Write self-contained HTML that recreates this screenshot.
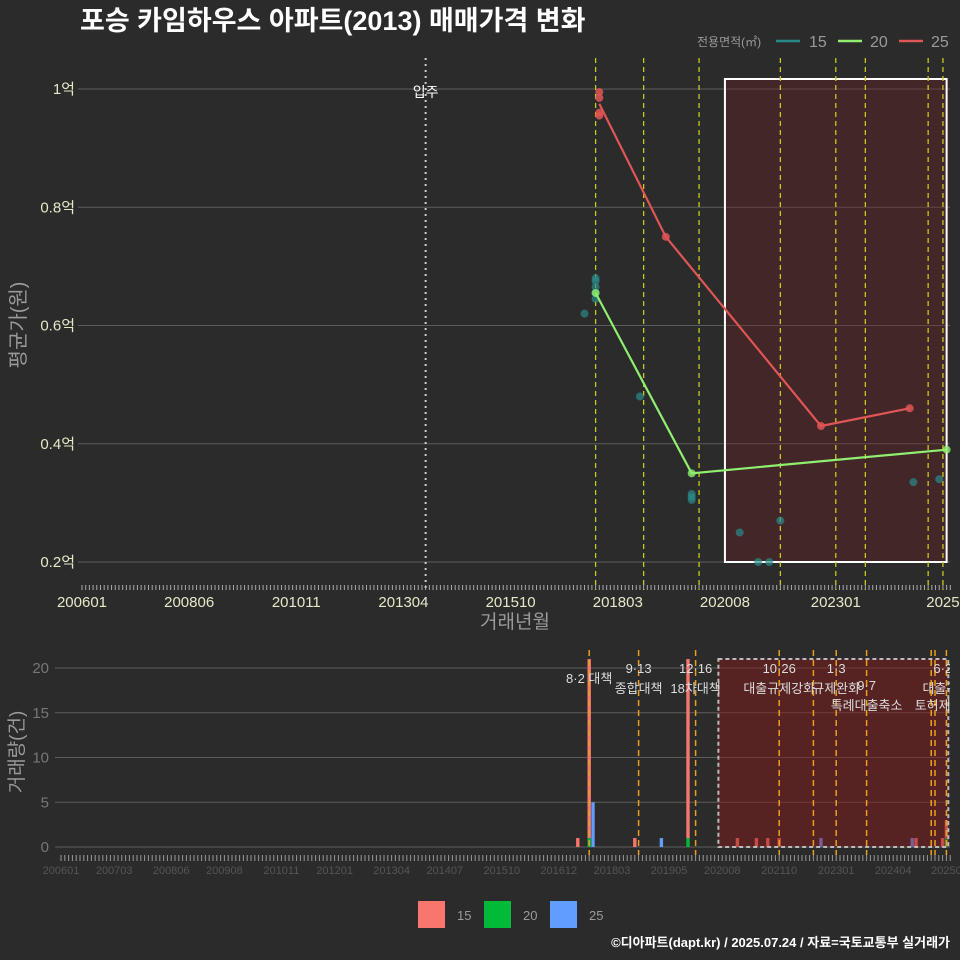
<!DOCTYPE html>
<html><head><meta charset="utf-8">
<style>
html,body{margin:0;padding:0;background:#2b2b2b;}
svg{display:block;font-family:"Liberation Sans","Noto Sans CJK KR",sans-serif;}
</style></head>
<body>
<svg id="chart" width="960" height="960" viewBox="0 0 960 960">
<rect x="0" y="0" width="960" height="960" fill="#2b2b2b"/>
<text x="80" y="30" font-size="27" font-weight="bold" fill="#ffffff">포승 카임하우스 아파트(2013) 매매가격 변화</text>
<g>
<text x="697" y="46" font-size="12" fill="#9a9a9a">전용면적(㎡)</text>
<line x1="776" y1="41" x2="800" y2="41" stroke="#2a8a8a" stroke-width="2.5"/>
<text x="809" y="47" font-size="16" fill="#9a9a9a">15</text>
<line x1="838" y1="41" x2="862" y2="41" stroke="#90ee70" stroke-width="2.5"/>
<text x="870" y="47" font-size="16" fill="#9a9a9a">20</text>
<line x1="899" y1="41" x2="923" y2="41" stroke="#e05555" stroke-width="2.5"/>
<text x="931" y="47" font-size="16" fill="#9a9a9a">25</text>
</g>
<g id="topPanel"></g>
<g id="botPanel"></g>
<text x="515" y="628" font-size="19" fill="#9a9a9a" text-anchor="middle">거래년월</text>
<text x="0" y="0" font-size="20" fill="#9a9a9a" text-anchor="middle" transform="translate(25,325) rotate(-90)">평균가(원)</text>
<text x="0" y="0" font-size="19" fill="#9a9a9a" text-anchor="middle" transform="translate(23,752) rotate(-90)">거래량(건)</text>
<g>
<rect x="418" y="901" width="27" height="27" fill="#f8766d"/>
<text x="457" y="920" font-size="13" fill="#9a9a9a">15</text>
<rect x="484" y="901" width="27" height="27" fill="#00ba38"/>
<text x="523" y="920" font-size="13" fill="#9a9a9a">20</text>
<rect x="550" y="901" width="27" height="27" fill="#619cff"/>
<text x="589" y="920" font-size="13" fill="#9a9a9a">25</text>
</g>
<text x="950" y="947" font-size="13" font-weight="bold" fill="#ffffff" text-anchor="end">©디아파트(dapt.kr) / 2025.07.24 / 자료=국토교통부 실거래가</text>
</svg>
<script>
// month index = months since 2006-01
const topTickMonths = [0,29,58,87,116,145,174,204,233];
const topTickLabels = ["200601","200806","201011","201304","201510","201803","202008","202301","2025"];
const yTicks = [1.0,0.8,0.6,0.4,0.2];
const yTickLabels = ["1억","0.8억","0.6억","0.4억","0.2억"];
const pts15M = [136,139,139,139,139,139,151,165,165,165,178,183,186,189,225,232];
const pts15V = [0.62,0.68,0.675,0.665,0.655,0.645,0.48,0.315,0.31,0.305,0.25,0.2,0.2,0.27,0.335,0.34];
const line20M = [139,165,234];
const line20V = [0.655,0.35,0.39];
const line25M = [140,158,200,224];
const line25V = [0.975,0.75,0.43,0.46];
const pts25M = [140,140,140,140,158,200,224];
const pts25V = [0.995,0.985,0.96,0.955,0.75,0.43,0.46];
const eventTopMonths = [139,152,167,189,204,212,229,233];
const moveInMonth = 93;
const regionStart = 174, regionEnd = 234;

const botTickMonths = [0,14,29,43,58,72,87,101,116,131,145,160,174,189,204,219,233];
const botTickLabels = ["200601","200703","200806","200908","201011","201201","201304","201407","201510","201612","201803","201905","202008","202110","202301","202404","20250"];
const volTicks = [0,5,10,15,20];
const barMonths = [136,139,140,151,158,165,178,183,186,189,200,224,225,232,233];
const bar15 = [1,20,0,1,0,20,1,1,1,1,0,0,1,1,2];
const bar20 = [0,1,0,0,0,1,0,0,0,0,0,0,0,0,1];
const bar25 = [0,0,5,0,1,0,0,0,0,0,1,1,0,0,0];
const eventBotMonths = [139,152,167,189,198,204,212,229,230,233];
const eventLabelMonths = [139,152,167,189,204,212,233];
const eventLine1 = ["","9·13","12·16","10·26","1·3","","6·27"];
const eventLine2 = ["8·2 대책","종합대책","18차대책","대출규제강화","규제완화","9·7","대출규제"];
const eventLine3 = ["","","","","","특례대출축소","토허제 해제"];

const NS="http://www.w3.org/2000/svg";
function mk(parent,tag,attrs){const e=document.createElementNS(NS,tag);for(const k in attrs)e.setAttribute(k,attrs[k]);parent.appendChild(e);return e;}
const tx=m=>82+m*3.695;
const ty=v=>89+(1-v)*591.25;
const bx=m=>61+m*3.8;
const by=v=>847-v*8.95;

const topG=document.getElementById('topPanel');
const defs=mk(document.getElementById('chart'),'defs',{});
const cp=mk(defs,'clipPath',{id:'botclip'});mk(cp,'rect',{x:55,y:650,width:895,height:205});
const cpt=mk(defs,'clipPath',{id:'topclip'});mk(cpt,'rect',{x:78,y:55,width:874,height:525});

yTicks.forEach((v,i)=>{
  const g=mk(topG,'line',{x1:78,x2:950,y1:ty(v),y2:ty(v),stroke:'#5c5c5c','stroke-width':1});
  
  
  const t=mk(topG,'text',{x:75,y:ty(v)+5,'font-size':15,fill:'#e8e8c8','text-anchor':'end'});
  t.textContent=yTickLabels[i];
  
  
});
const rr=mk(topG,'rect',{x:tx(regionStart),y:79,width:tx(regionEnd)-tx(regionStart),height:483,fill:'rgba(110,30,35,0.35)',stroke:'#ffffff','stroke-width':2});


for(let m=0;m<=235;m++){
  const l=mk(topG,'line',{x1:tx(m),x2:tx(m),y1:585,y2:590,stroke:'#aaaaaa','stroke-width':1});
  
  
}
topTickMonths.forEach((m,i)=>{
  const t=mk(topG,'text',{x:tx(m),y:607,'font-size':15,fill:'#e8e8c8','text-anchor':'middle'});
  t.textContent=topTickLabels[i];
  
  
});
const mi=mk(topG,'line',{x1:tx(moveInMonth),x2:tx(moveInMonth),y1:58,y2:590,stroke:'#cccccc','stroke-width':2,'stroke-dasharray':'2,4'});


const mit=mk(topG,'text',{x:tx(moveInMonth),y:97,'font-size':14,fill:'#ffffff','text-anchor':'middle'});
mit.textContent='입주';


eventTopMonths.forEach(m=>{
  const l=mk(topG,'line',{x1:tx(m),x2:tx(m),y1:58,y2:590,stroke:'#c8c820','stroke-width':1.3,'stroke-dasharray':'5,4'});
  
  
});
const tg=mk(topG,'g',{'clip-path':'url(#topclip)'});
pts15M.forEach((m,i)=>{
  const c=mk(tg,'circle',{cx:tx(m),cy:ty(pts15V[i]),r:4,fill:'#2a8a8a','fill-opacity':0.7});
  
  
});
function poly(ms,vs,col,name){
  const p=mk(tg,'polyline',{points:ms.map((m,i)=>tx(m)+','+ty(vs[i])).join(' '),fill:'none',stroke:col,'stroke-width':2.2});
  
  
}
poly(line20M,line20V,'#90ee70','line-20');
line20M.forEach((m,i)=>{
  const c=mk(tg,'circle',{cx:tx(m),cy:ty(line20V[i]),r:4,fill:'#90ee70','fill-opacity':0.8});
  
  
});
poly(line25M,line25V,'#e05555','line-25');
pts25M.forEach((m,i)=>{
  const c=mk(tg,'circle',{cx:tx(m),cy:ty(pts25V[i]),r:4,fill:'#e05555','fill-opacity':0.85});
  
  
});

const botG=document.getElementById('botPanel');
volTicks.forEach(v=>{
  const g=mk(botG,'line',{x1:55,x2:950,y1:by(v),y2:by(v),stroke:'#5c5c5c','stroke-width':1});
  
  
  const t=mk(botG,'text',{x:49,y:by(v)+5,'font-size':15,fill:'#777777','text-anchor':'end'});
  t.textContent=String(v);
  
  
});
for(let m=0;m<=234;m++){
  const l=mk(botG,'line',{x1:bx(m),x2:bx(m),y1:855,y2:861,stroke:'#999999','stroke-width':1});
  
  
}
botTickMonths.forEach((m,i)=>{
  const t=mk(botG,'text',{x:bx(m),y:874,'font-size':11,fill:'#555555','text-anchor':'middle'});
  t.textContent=botTickLabels[i];
  
  
});
const bg=mk(botG,'g',{'clip-path':'url(#botclip)'});
const bw=3.4;
barMonths.forEach((m,i)=>{
  let base=0;
  [[bar20[i],'#00ba38','bar-20'],[bar15[i],'#f8766d','bar-15'],[bar25[i],'#619cff','bar-25']].forEach(([v,col,nm])=>{
    if(v>0){
      const r=mk(bg,'rect',{x:bx(m)-bw/2,y:by(base+v),width:bw,height:by(base)-by(base+v),fill:col});
      
      
      base+=v;
    }
  });
});
const br=mk(bg,'rect',{x:bx(173),y:by(21),width:bx(233.5)-bx(173),height:by(0)-by(21),fill:'rgba(140,25,25,0.45)',stroke:'#bbbbbb','stroke-width':2,'stroke-dasharray':'4,3'});


eventBotMonths.forEach(m=>{
  const l=mk(bg,'line',{x1:bx(m),x2:bx(m),y1:650,y2:855,stroke:'#e8a020','stroke-width':1.5,'stroke-dasharray':'6,4'});
  
  
});
eventLabelMonths.forEach((m,i)=>{
  const lines=[[eventLine1[i],673],[eventLine2[i],i===0?683:693],[eventLine3[i],710]];
  if(i===5){lines[1][1]=690;}
  lines.forEach(([s,y])=>{
    if(!s)return;
    const t=mk(bg,'text',{x:bx(m),y:y,'font-size':13,fill:'#dddddd','text-anchor':'middle'});
    t.textContent=s;
    
    
  });
});
</script>
</body></html>
